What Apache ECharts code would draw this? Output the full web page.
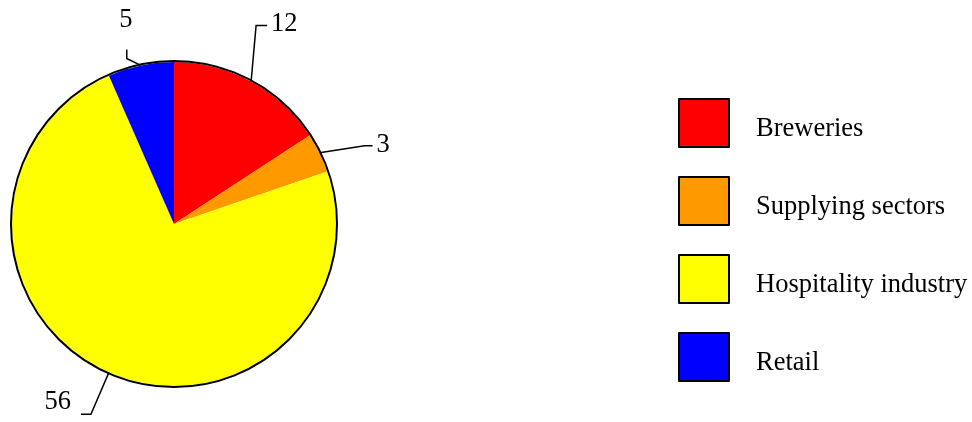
<!DOCTYPE html>
<html>
  <head>
    <meta charset="utf-8">
    <title></title>
    <style media="screen">
    html, body {margin:0; padding:0; background:#fff}
    .box {width:972px; height:422px}
    </style>
    <script src="https://cdn.jsdelivr.net/npm/echarts@6/dist/echarts.min.js" charset="utf-8"></script>
    <script>
    // data
    const categories=['Breweries', 'Supplying sectors', 'Hospitality industry', 'Retail'];
    const values=[12, 3, 56, 5];
    const colors=['#ff0000', '#ff9900', '#ffff00', '#0000ff'];

    // where each label sits, relative to the point on the rim
    const labelPlaces=[
      {elbow:[5,-56], end:[16,-56], text:[20,-57], align:'left'},
      {elbow:[45,-7], end:[53,-7], text:[57,-8], align:'left'},
      {elbow:[-18,42], end:[-28,42], text:[-38,30], align:'right'},
      {elbow:[-14,-7], end:[-14,-16], text:[-15,-45], align:'center'}
    ];

    const font='"Liberation Serif", "Times New Roman", serif';

    window.onload=function (){
      let chart=echarts.init(document.querySelector('.box'));

      let option={
        animation: false,
        legend: {
          data: categories,
          orient: 'vertical',
          left: 678,
          top: 98,
          padding: 0,
          itemWidth: 50,
          itemHeight: 48,
          itemGap: 28,
          icon: 'rect',
          itemStyle: {borderColor: '#000', borderWidth: 2},
          formatter: name=>'{t|'+name+'}',
          textStyle: {
            fontFamily: font, fontSize: 26.5, color: '#000', padding: [0,0,0,22],
            rich: {t: {fontFamily: font, fontSize: 26.5, color: '#000', padding: [12,0,0,0]}}
          }
        },
        series: [
          {
            name: 'share',
            type: 'pie',
            center: [174, 224],
            radius: 162,
            startAngle: 90,
            clockwise: true,
            color: colors,
            data: categories.map((name, i)=>({name: name, value: values[i]})),
            itemStyle: {borderWidth: 0},
            label: {
              show: true,
              position: 'outside',
              formatter: '{c}',
              fontFamily: font,
              fontSize: 26.5,
              color: '#000'
            },
            labelLine: {show: true, lineStyle: {color: '#000', width: 1.5}},
            labelLayout: function (params){
              let p=labelPlaces[params.dataIndex];
              let p0=params.labelLinePoints[0];
              return {
                x: p0[0]+p.text[0],
                y: p0[1]+p.text[1],
                align: p.align,
                verticalAlign: 'middle',
                labelLinePoints: [
                  [p0[0], p0[1]],
                  [p0[0]+p.elbow[0], p0[1]+p.elbow[1]],
                  [p0[0]+p.end[0], p0[1]+p.end[1]]
                ]
              };
            }
          },
          {
            // black rim round the whole pie
            name: 'rim',
            type: 'pie',
            silent: true,
            center: [174, 224],
            radius: 163,
            label: {show: false},
            labelLine: {show: false},
            data: [{name: 'rim', value: 1}],
            itemStyle: {color: 'none', borderColor: '#000', borderWidth: 2},
            z: 3
          }
        ]
      };

      chart.setOption(option);
    };
    </script>
  </head>
  <body>
    <div class="box"></div>
  </body>
</html>
